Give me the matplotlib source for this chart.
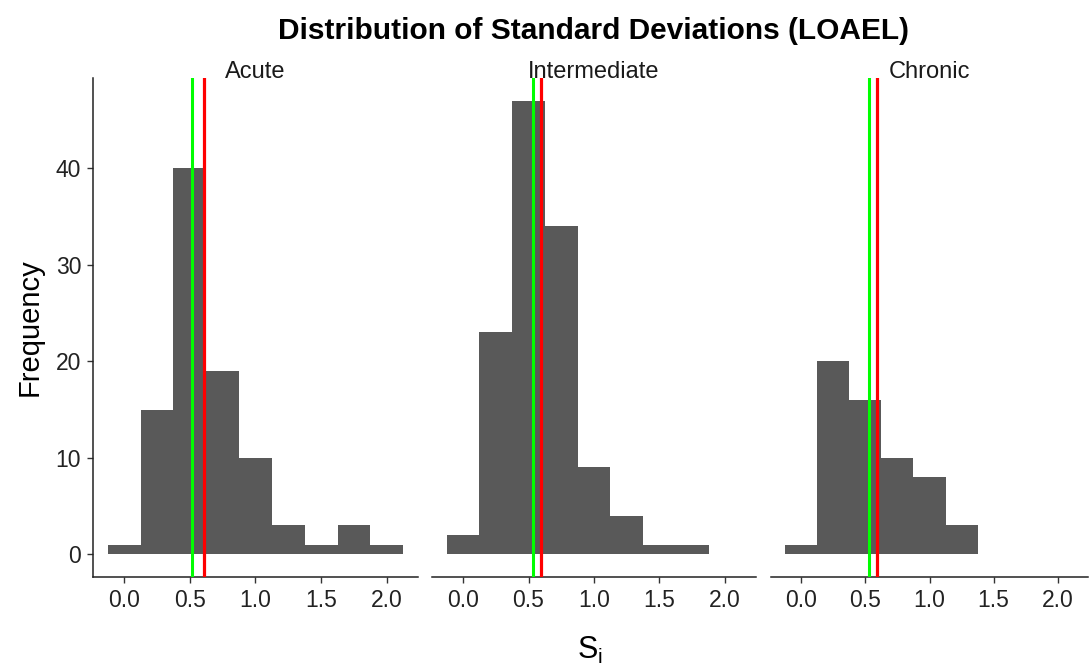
import matplotlib.pyplot as plt

plt.rcParams['font.family'] = ['Liberation Sans', 'DejaVu Sans']

# histogram bins (centre of each 0.25-wide bin) and counts per exposure duration
bin_centers = [0.0, 0.25, 0.5, 0.75, 1.0, 1.25, 1.5, 1.75, 2.0]
acute = [1, 15, 40, 19, 10, 3, 1, 3, 1]
intermediate = [2, 23, 47, 34, 9, 4, 1, 1, 0]
chronic = [1, 20, 16, 10, 8, 3, 0, 0, 0]

panels = ['Acute', 'Intermediate', 'Chronic']
counts = [acute, intermediate, chronic]
median_sd = [0.52, 0.535, 0.525]   # green line
mean_sd = [0.605, 0.595, 0.59]     # red line

W, H = 1090, 666
fig = plt.figure(figsize=(W / 100, H / 100), dpi=100)

# panel extents in pixels (left, right)
lefts = [93, 432, 771]
rights = [418, 756, 1088]
top, bottom = 78, 577

for i, (name, c) in enumerate(zip(panels, counts)):
    ax = fig.add_axes([lefts[i] / W, 1 - bottom / H,
                       (rights[i] - lefts[i]) / W, (bottom - top) / H])
    xs = [x for x, n in zip(bin_centers, c) if n > 0]
    ns = [n for n in c if n > 0]
    ax.bar(xs, ns, width=0.25, color='#595959', linewidth=0, zorder=2)
    ax.axvline(median_sd[i], color='#00ff00', lw=2.2, zorder=3)
    ax.axvline(mean_sd[i], color='#ff0000', lw=2.3, zorder=3)
    ax.set_xlim(-0.2375, 2.2375)
    ax.set_ylim(-2.35, 49.35)
    ax.set_xticks([0.0, 0.5, 1.0, 1.5, 2.0])
    ax.set_xticklabels(['0.0', '0.5', '1.0', '1.5', '2.0'])
    for s in ['top', 'right']:
        ax.spines[s].set_visible(False)
    ax.spines['bottom'].set_linewidth(1.1)
    ax.spines['left'].set_linewidth(1.1)
    ax.spines['bottom'].set_color('#222222')
    ax.spines['left'].set_color('#222222')
    ax.tick_params(axis='both', labelsize=16.5, colors='#333333',
                   labelcolor='#222222', length=4.5, width=1, pad=4)
    if i == 0:
        ax.set_yticks([0, 10, 20, 30, 40])
        ax.set_ylabel('Frequency', fontsize=21, labelpad=9)
    else:
        ax.spines['left'].set_visible(False)
        ax.set_yticks([])
    # facet strip label, sitting just on top of the panel
    ax.text(0.5, 1.0, name, transform=ax.transAxes, ha='center',
            va='baseline', fontsize=17, color='#1a1a1a', zorder=4)

fig.text(593 / W, 1 - 31 / H, 'Distribution of Standard Deviations (LOAEL)',
         ha='center', va='center', fontsize=21.5, fontweight='bold')
fig.text(590 / W, 1 - 650 / H, r'S$_\mathregular{i}$', ha='center',
         va='center', fontsize=22)

fig.savefig('out.png', dpi=100)
